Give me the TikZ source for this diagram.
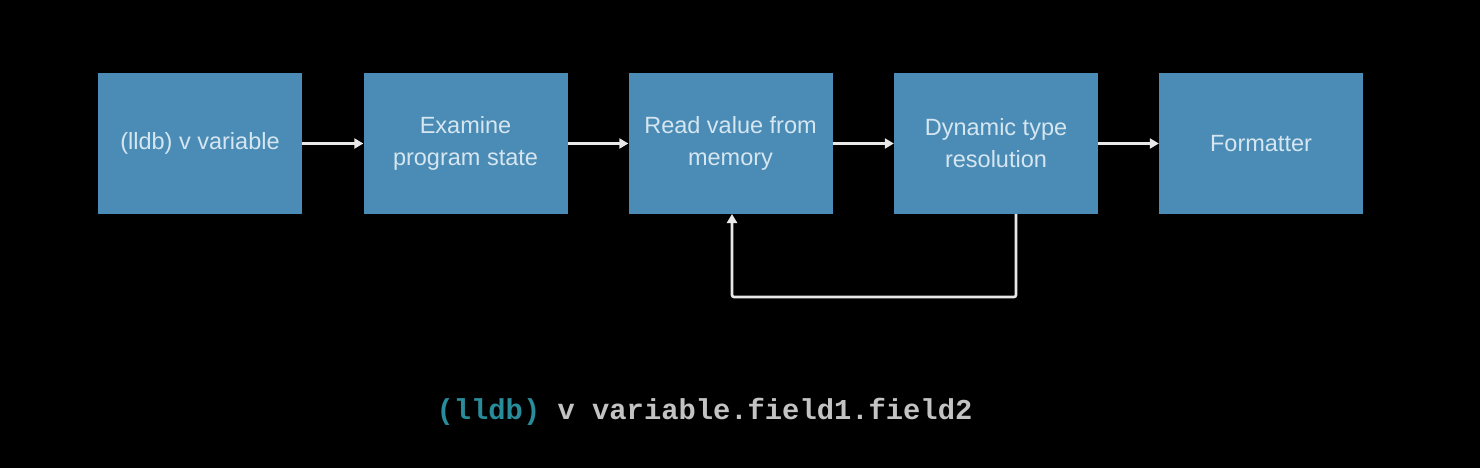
\documentclass[tikz,border=0pt]{standalone}
\usepackage{fontspec}
\setmainfont{Liberation Sans}
\setmonofont{Liberation Mono}
\usetikzlibrary{arrows.meta}
\definecolor{boxblue}{RGB}{74,140,182}
\definecolor{boxtext}{RGB}{214,230,240}
\definecolor{arrowc}{RGB}{232,232,232}
\definecolor{lldbc}{RGB}{40,140,155}
\definecolor{cmdc}{RGB}{195,195,195}
\begin{document}
\begin{tikzpicture}[x=1pt,y=-1pt,
  stepbox/.style={fill=boxblue,draw=none,minimum width=204pt,minimum height=141pt,
    inner sep=0pt,align=center,text=boxtext,font=\fontsize{23.5}{32}\selectfont},
  conn/.style={draw=arrowc,line width=2.6pt,-{Triangle[length=9pt,width=10pt]}}]
\fill[black] (0,0) rectangle (1480,468);
\useasboundingbox (0,0) rectangle (1480,468);
\node[stepbox] (a) at (200,143.5) {(lldb) v variable};
\node[stepbox] (b) at (465.5,143.5) {Examine\\program state};
\node[stepbox] (c) at (730.5,143.5) {Read value from\\memory};
\node[stepbox] (d) at (996,143.5) {Dynamic type\\resolution};
\node[stepbox] (e) at (1261,143.5) {Formatter};
\draw[conn] (a) -- (b);
\draw[conn] (b) -- (c);
\draw[conn] (c) -- (d);
\draw[conn] (d) -- (e);
\coordinate (dl) at (1016,214);
\coordinate (cl) at (732,214);
\draw[conn,rounded corners=2pt] (dl) -- (1016,297) -- (732,297) -- (cl);
\node[anchor=center,inner sep=0pt,font=\ttfamily\bfseries\fontsize{28.8}{30}\selectfont] (cmd) at (704.5,412)
  {\textcolor{lldbc}{(lldb)}\textcolor{cmdc}{\ v variable.field1.field2}};
\end{tikzpicture}
\end{document}
